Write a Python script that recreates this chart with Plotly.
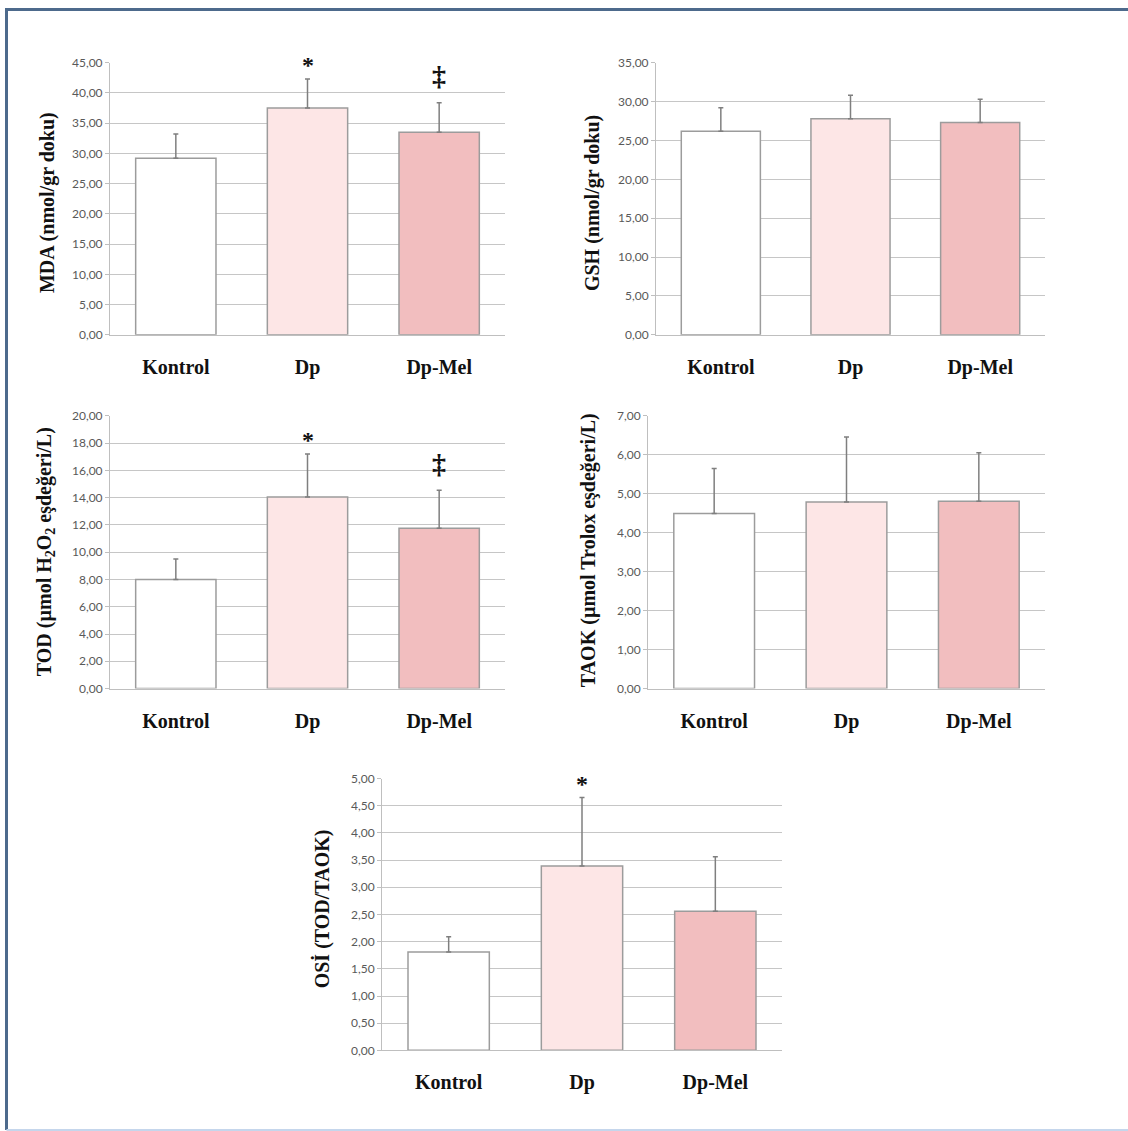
import plotly.graph_objects as go

# ---------------- data ----------------
categories = ["Kontrol", "Dp", "Dp-Mel"]

mda_mean = [29.2, 37.5, 33.5]
mda_sd = [4.0, 4.8, 4.9]
mda_sig = ["", "*", "‡"]

gsh_mean = [26.2, 27.8, 27.3]
gsh_sd = [3.0, 3.0, 3.0]
gsh_sig = ["", "", ""]

tod_mean = [8.0, 14.05, 11.75]
tod_sd = [1.5, 3.15, 2.8]
tod_sig = ["", "*", "‡"]

taok_mean = [4.49, 4.79, 4.81]
taok_sd = [1.16, 1.67, 1.24]
taok_sig = ["", "", ""]

osi_mean = [1.81, 3.39, 2.56]
osi_sd = [0.28, 1.26, 1.0]
osi_sig = ["", "*", ""]

mda_title = "MDA (nmol/gr doku)"
gsh_title = "GSH (nmol/gr doku)"
tod_title = "TOD (µmol H<sub>2</sub>O<sub>2</sub> eşdeğeri/L)"
taok_title = "TAOK (µmol Trolox eşdeğeri/L)"
osi_title = "OSİ (TOD/TAOK)"

mda_ymax, mda_dtick = 45, 5
gsh_ymax, gsh_dtick = 35, 5
tod_ymax, tod_dtick = 20, 2
taok_ymax, taok_dtick = 7, 1
osi_ymax, osi_dtick = 5, 0.5

# ---------------- layout geometry (pixels, reference coordinates) ----------------
W = 1128
H = 1140          # figure height
Y_OFF = 8         # observed vertical offset of the rendered page
Y_SCALE = 0.9865  # observed vertical scale of the rendered page
bar_colors = ["#ffffff", "#fde6e6", "#f2bebf"]


def py(y):
    """reference pixel row -> paper fraction"""
    return 1 - ((y - Y_OFF) / Y_SCALE) / H


panels = [
    dict(mean=mda_mean, sd=mda_sd, sig=mda_sig, title=mda_title, ymax=mda_ymax, dtick=mda_dtick,
         box=(110, 505, 62.7, 334.7), title_x=47, title_y=203),
    dict(mean=gsh_mean, sd=gsh_sd, sig=gsh_sig, title=gsh_title, ymax=gsh_ymax, dtick=gsh_dtick,
         box=(656, 1045, 62.7, 334.7), title_x=592, title_y=203),
    dict(mean=tod_mean, sd=tod_sd, sig=tod_sig, title=tod_title, ymax=tod_ymax, dtick=tod_dtick,
         box=(110, 505, 415.7, 688.3), title_x=45, title_y=552),
    dict(mean=taok_mean, sd=taok_sd, sig=taok_sig, title=taok_title, ymax=taok_ymax, dtick=taok_dtick,
         box=(648, 1045, 415.7, 688.3), title_x=588, title_y=550),
    dict(mean=osi_mean, sd=osi_sd, sig=osi_sig, title=osi_title, ymax=osi_ymax, dtick=osi_dtick,
         box=(382, 782, 778.3, 1050), title_x=322, title_y=909),
]

sig_shift = {"*": 14, "‡": 27}
sig_size = {"*": 24, "‡": 28}

fig = go.Figure()
annotations = []
layout_axes = {}

for i, p in enumerate(panels, start=1):
    xn = "x" if i == 1 else f"x{i}"
    yn = "y" if i == 1 else f"y{i}"
    x0, x1, y0, y1 = p["box"]
    fig.add_trace(go.Bar(
        x=categories, y=p["mean"], xaxis=xn, yaxis=yn,
        marker=dict(color=bar_colors, line=dict(color="#9c9c9c", width=1.5)),
        error_y=dict(type="data", symmetric=False, array=p["sd"], arrayminus=[0] * len(p["sd"]),
                     color="#7f7f7f", thickness=1.5, width=2.5),
        showlegend=False, hoverinfo="skip",
    ))
    layout_axes["xaxis" if i == 1 else f"xaxis{i}"] = dict(
        domain=[x0 / W, x1 / W], anchor=yn, type="category",
        range=[-0.5, len(categories) - 0.5],
        showline=True, linecolor="#bfbfbf", linewidth=1,
        ticks="", showgrid=False,
        tickfont=dict(family="Liberation Serif", size=20, color="#111111", weight="bold"),
        ticklabelstandoff=14,
    )
    layout_axes["yaxis" if i == 1 else f"yaxis{i}"] = dict(
        domain=[py(y1), py(y0)], anchor=xn,
        range=[0, p["ymax"]], dtick=p["dtick"], tick0=0,
        tickformat=".2f",
        showline=True, linecolor="#bfbfbf", linewidth=1,
        ticks="outside", ticklen=4, tickcolor="#bfbfbf",
        showgrid=True, gridcolor="#c6c6c6", gridwidth=1,
        zeroline=False,
        tickfont=dict(family="Lato", size=12, color="#595959"),
    )
    annotations.append(dict(
        text=p["title"], xref="paper", yref="paper",
        x=p["title_x"] / W, y=py(p["title_y"]),
        xanchor="center", yanchor="middle", textangle=-90, showarrow=False,
        font=dict(family="Liberation Serif", size=20, color="#111111", weight="bold"),
    ))
    for c, m, s, g in zip(categories, p["mean"], p["sd"], p["sig"]):
        if g:
            annotations.append(dict(
                text=g, x=c, y=m + s, xref=xn, yref=yn,
                xanchor="center", yanchor="middle", yshift=sig_shift[g], showarrow=False,
                font=dict(family="Liberation Serif", size=sig_size[g], color="#111111", weight="bold"),
            ))

bottom_y = py(1129.5)
shapes = [
    dict(type="path", xref="paper", yref="paper",
         path=f"M {6.5 / W} {bottom_y} L {6.5 / W} {1 - 1.5 / H} L {1} {1 - 1.5 / H}",
         line=dict(color="#4d6a8c", width=3)),
    dict(type="line", xref="paper", yref="paper", x0=6.5 / W, x1=1, y0=bottom_y, y1=bottom_y,
         line=dict(color="#c5d6ec", width=2)),
]

fig.update_layout(
    width=W, height=H,
    margin=dict(l=0, r=0, t=0, b=0),
    paper_bgcolor="white", plot_bgcolor="white",
    separators=",.",
    bargap=0.39,
    annotations=annotations,
    shapes=shapes,
    **layout_axes,
)

post = (
    "document.body.style.margin='0';document.body.style.padding='0';"
    "document.body.style.overflow='hidden';"
)

fig.write_html("out.html", config={"displayModeBar": False}, post_script=post)
